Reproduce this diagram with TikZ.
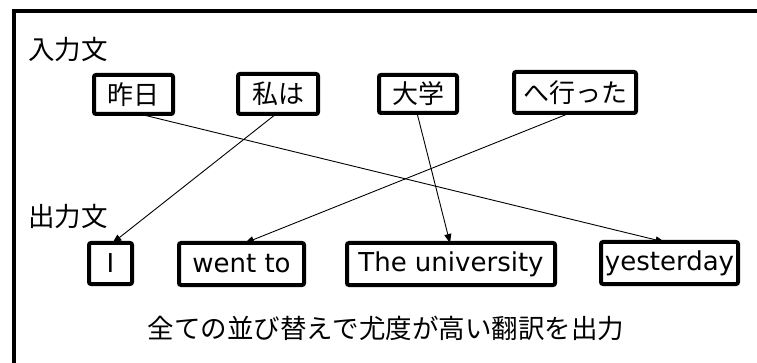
\documentclass[tikz,border=0pt]{standalone}
\usepackage{fontspec}
\setmainfont{Noto Sans CJK JP}
\newfontfamily\latinfont{DejaVu Sans}
\usetikzlibrary{arrows.meta}
\begin{document}
\begin{tikzpicture}[x=1pt,y=-1pt,
  wbox/.style={draw=black,line width=4pt,rounded corners=2pt,inner sep=0pt,font=\fontsize{26}{30}\selectfont},
  ebox/.style={wbox,font=\latinfont\fontsize{26}{30}\selectfont},
  lbl/.style={inner sep=0pt,font=\fontsize{26.5}{30}\selectfont},
  link/.style={line width=0.9pt,-{Triangle[length=9pt,width=7pt]}}]
\useasboundingbox (0,0) rectangle (757,363);
\clip (0,0) rectangle (757,363);
\fill[white] (0,0) rectangle (757,363);
\draw[line width=4pt] (14,370) -- (14,11) -- (770,11);
\node[lbl,anchor=west] (inl) at (28,49) {入力文};
\node[lbl,anchor=west] (outl) at (28,216) {出力文};
\node[wbox,minimum width=79pt,minimum height=39pt] (s1) at (133.5,94.5) {昨日};
\node[wbox,minimum width=80pt,minimum height=40pt] (s2) at (278,94) {私は};
\node[wbox,minimum width=78pt,minimum height=38pt] (s3) at (418,94) {大学};
\node[wbox,minimum width=122pt,minimum height=41pt] (s4) at (575,92.5) {へ行った};
\node[ebox,minimum width=43pt,minimum height=41pt] (t1) at (110.5,263.5) {I};
\node[ebox,minimum width=125pt,minimum height=42pt] (t2) at (241.5,264) {went to};
\node[ebox,minimum width=208pt,minimum height=42pt] (t3) at (451,264) {The university};
\node[ebox,minimum width=137pt,minimum height=42pt] (t4) at (669.5,263) {yesterday};
\node[lbl] (res) at (386,328) {全ての並び替えで尤度が高い翻訳を出力};
\draw[link] ([xshift=6pt,yshift=2pt]s1.south) -- ([xshift=-5pt,yshift=-2pt]t4.north);
\draw[link] ([xshift=-2pt,yshift=2pt]s2.south) -- ([xshift=2pt,yshift=-2pt]t1.north);
\draw[link] ([xshift=-1pt,yshift=2pt]s3.south) -- ([xshift=-1pt,yshift=-2pt]t3.north);
\draw[link] ([xshift=-5pt,yshift=2pt]s4.south) -- ([xshift=3.5pt,yshift=-2pt]t2.north);
\end{tikzpicture}
\end{document}
